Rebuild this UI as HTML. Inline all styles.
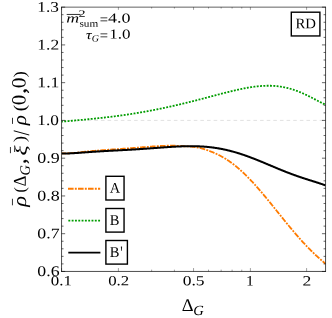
<!DOCTYPE html>
<html><head><meta charset="utf-8"><title>plot</title>
<style>html,body{margin:0;padding:0;background:#fff}body{width:332px;height:318px;overflow:hidden;font-family:"Liberation Serif",serif}</style></head>
<body>
<svg width="332" height="318" viewBox="0 0 332 318" font-family="Liberation Serif, serif" style="display:block;font-kerning:none;will-change:transform" text-rendering="geometricPrecision">
<rect width="332" height="318" fill="#fff"/>
<clipPath id="c"><rect x="61.55" y="7.15" width="264.0" height="264.3"/></clipPath>
<path d="M61.55,120.42 H325.55" stroke="#e0e0e0" stroke-width="0.95" stroke-dasharray="3.6 3.03" stroke-dashoffset="0.4" fill="none"/>
<g clip-path="url(#c)" fill="none">
<path d="M61.55,153.37 L61.99,153.37 L62.43,153.38 L62.87,153.38 L63.31,153.38 L63.75,153.38 L64.19,153.37 L64.64,153.37 L65.08,153.36 L65.52,153.35 L65.96,153.34 L66.40,153.33 L66.84,153.32 L67.28,153.30 L67.72,153.29 L68.16,153.27 L68.60,153.25 L69.04,153.23 L69.48,153.21 L69.92,153.19 L70.36,153.17 L70.81,153.14 L71.25,153.12 L71.69,153.09 L72.13,153.07 L72.57,153.04 L73.01,153.01 L73.45,152.98 L73.89,152.95 L74.33,152.92 L74.77,152.89 L75.21,152.86 L75.65,152.83 L76.09,152.79 L76.53,152.74 L76.98,152.69 L77.42,152.64 L77.86,152.59 L78.30,152.53 L78.74,152.48 L79.18,152.42 L79.62,152.36 L80.06,152.30 L80.50,152.23 L80.94,152.17 L81.38,152.11 L81.82,152.06 L82.26,152.00 L82.71,151.94 L83.15,151.89 L83.59,151.84 L84.03,151.79 L84.47,151.75 L84.91,151.70 L85.35,151.66 L85.79,151.62 L86.23,151.57 L86.67,151.53 L87.11,151.49 L87.55,151.45 L87.99,151.40 L88.43,151.36 L88.88,151.32 L89.32,151.28 L89.76,151.24 L90.20,151.20 L90.64,151.16 L91.08,151.13 L91.52,151.09 L91.96,151.05 L92.40,151.01 L92.84,150.97 L93.28,150.93 L93.72,150.90 L94.16,150.86 L94.61,150.82 L95.05,150.79 L95.49,150.75 L95.93,150.71 L96.37,150.68 L96.81,150.64 L97.25,150.60 L97.69,150.57 L98.13,150.53 L98.57,150.50 L99.01,150.46 L99.45,150.43 L99.89,150.39 L100.33,150.36 L100.78,150.32 L101.22,150.29 L101.66,150.26 L102.10,150.22 L102.54,150.19 L102.98,150.16 L103.42,150.12 L103.86,150.09 L104.30,150.06 L104.74,150.03 L105.18,149.99 L105.62,149.96 L106.06,149.93 L106.50,149.90 L106.95,149.87 L107.39,149.83 L107.83,149.80 L108.27,149.77 L108.71,149.74 L109.15,149.71 L109.59,149.68 L110.03,149.65 L110.47,149.61 L110.91,149.58 L111.35,149.55 L111.79,149.52 L112.23,149.49 L112.68,149.46 L113.12,149.43 L113.56,149.40 L114.00,149.37 L114.44,149.34 L114.88,149.31 L115.32,149.28 L115.76,149.25 L116.20,149.22 L116.64,149.19 L117.08,149.16 L117.52,149.12 L117.96,149.09 L118.40,149.06 L118.85,149.03 L119.29,149.00 L119.73,148.97 L120.17,148.94 L120.61,148.91 L121.05,148.88 L121.49,148.85 L121.93,148.82 L122.37,148.79 L122.81,148.76 L123.25,148.73 L123.69,148.69 L124.13,148.66 L124.58,148.63 L125.02,148.60 L125.46,148.57 L125.90,148.54 L126.34,148.51 L126.78,148.47 L127.22,148.44 L127.66,148.41 L128.10,148.38 L128.54,148.35 L128.98,148.31 L129.42,148.28 L129.86,148.25 L130.30,148.21 L130.75,148.18 L131.19,148.15 L131.63,148.12 L132.07,148.08 L132.51,148.05 L132.95,148.01 L133.39,147.98 L133.83,147.94 L134.27,147.91 L134.71,147.87 L135.15,147.83 L135.59,147.80 L136.03,147.76 L136.47,147.72 L136.92,147.68 L137.36,147.65 L137.80,147.61 L138.24,147.57 L138.68,147.53 L139.12,147.50 L139.56,147.46 L140.00,147.42 L140.44,147.39 L140.88,147.35 L141.32,147.32 L141.76,147.28 L142.20,147.25 L142.65,147.21 L143.09,147.18 L143.53,147.15 L143.97,147.12 L144.41,147.09 L144.85,147.06 L145.29,147.03 L145.73,147.00 L146.17,146.97 L146.61,146.93 L147.05,146.90 L147.49,146.87 L147.93,146.84 L148.37,146.81 L148.82,146.78 L149.26,146.75 L149.70,146.71 L150.14,146.68 L150.58,146.65 L151.02,146.62 L151.46,146.58 L151.90,146.55 L152.34,146.52 L152.78,146.49 L153.22,146.46 L153.66,146.42 L154.10,146.39 L154.54,146.36 L154.99,146.32 L155.43,146.29 L155.87,146.26 L156.31,146.23 L156.75,146.20 L157.19,146.17 L157.63,146.14 L158.07,146.11 L158.51,146.09 L158.95,146.06 L159.39,146.04 L159.83,146.02 L160.27,145.99 L160.72,145.97 L161.16,145.95 L161.60,145.94 L162.04,145.92 L162.48,145.90 L162.92,145.88 L163.36,145.87 L163.80,145.85 L164.24,145.83 L164.68,145.82 L165.12,145.80 L165.56,145.79 L166.00,145.77 L166.44,145.76 L166.89,145.75 L167.33,145.73 L167.77,145.72 L168.21,145.71 L168.65,145.71 L169.09,145.70 L169.53,145.69 L169.97,145.69 L170.41,145.69 L170.85,145.69 L171.29,145.69 L171.73,145.69 L172.17,145.69 L172.62,145.69 L173.06,145.70 L173.50,145.71 L173.94,145.71 L174.38,145.73 L174.82,145.75 L175.26,145.77 L175.70,145.80 L176.14,145.83 L176.58,145.86 L177.02,145.90 L177.46,145.93 L177.90,145.96 L178.34,145.99 L178.79,146.01 L179.23,146.03 L179.67,146.05 L180.11,146.08 L180.55,146.10 L180.99,146.12 L181.43,146.14 L181.87,146.16 L182.31,146.18 L182.75,146.20 L183.19,146.22 L183.63,146.24 L184.07,146.26 L184.51,146.28 L184.96,146.30 L185.40,146.32 L185.84,146.34 L186.28,146.36 L186.72,146.38 L187.16,146.39 L187.60,146.41 L188.04,146.43 L188.48,146.45 L188.92,146.47 L189.36,146.50 L189.80,146.52 L190.24,146.55 L190.69,146.58 L191.13,146.61 L191.57,146.65 L192.01,146.69 L192.45,146.73 L192.89,146.78 L193.33,146.84 L193.77,146.90 L194.21,146.96 L194.65,147.03 L195.09,147.10 L195.53,147.17 L195.97,147.24 L196.41,147.32 L196.86,147.40 L197.30,147.48 L197.74,147.56 L198.18,147.65 L198.62,147.73 L199.06,147.82 L199.50,147.91 L199.94,148.00 L200.38,148.10 L200.82,148.20 L201.26,148.31 L201.70,148.42 L202.14,148.53 L202.59,148.65 L203.03,148.78 L203.47,148.91 L203.91,149.04 L204.35,149.18 L204.79,149.32 L205.23,149.46 L205.67,149.61 L206.11,149.76 L206.55,149.92 L206.99,150.08 L207.43,150.24 L207.87,150.40 L208.31,150.56 L208.76,150.72 L209.20,150.89 L209.64,151.06 L210.08,151.23 L210.52,151.39 L210.96,151.56 L211.40,151.74 L211.84,151.91 L212.28,152.09 L212.72,152.27 L213.16,152.45 L213.60,152.63 L214.04,152.82 L214.48,153.01 L214.93,153.20 L215.37,153.40 L215.81,153.60 L216.25,153.80 L216.69,154.00 L217.13,154.21 L217.57,154.42 L218.01,154.64 L218.45,154.86 L218.89,155.08 L219.33,155.30 L219.77,155.53 L220.21,155.76 L220.66,155.99 L221.10,156.23 L221.54,156.47 L221.98,156.72 L222.42,156.96 L222.86,157.22 L223.30,157.47 L223.74,157.73 L224.18,157.99 L224.62,158.26 L225.06,158.53 L225.50,158.80 L225.94,159.07 L226.38,159.35 L226.83,159.64 L227.27,159.92 L227.71,160.21 L228.15,160.51 L228.59,160.81 L229.03,161.11 L229.47,161.41 L229.91,161.72 L230.35,162.03 L230.79,162.35 L231.23,162.67 L231.67,162.99 L232.11,163.32 L232.56,163.65 L233.00,163.98 L233.44,164.32 L233.88,164.66 L234.32,165.00 L234.76,165.35 L235.20,165.70 L235.64,166.06 L236.08,166.41 L236.52,166.78 L236.96,167.14 L237.40,167.51 L237.84,167.88 L238.28,168.26 L238.73,168.64 L239.17,169.02 L239.61,169.41 L240.05,169.80 L240.49,170.19 L240.93,170.59 L241.37,170.99 L241.81,171.39 L242.25,171.79 L242.69,172.20 L243.13,172.62 L243.57,173.03 L244.01,173.45 L244.45,173.87 L244.90,174.30 L245.34,174.73 L245.78,175.16 L246.22,175.59 L246.66,176.03 L247.10,176.47 L247.54,176.91 L247.98,177.36 L248.42,177.81 L248.86,178.26 L249.30,178.71 L249.74,179.17 L250.18,179.63 L250.63,180.09 L251.07,180.56 L251.51,181.03 L251.95,181.50 L252.39,181.97 L252.83,182.45 L253.27,182.93 L253.71,183.41 L254.15,183.89 L254.59,184.38 L255.03,184.86 L255.47,185.35 L255.91,185.85 L256.35,186.34 L256.80,186.84 L257.24,187.34 L257.68,187.84 L258.12,188.34 L258.56,188.85 L259.00,189.35 L259.44,189.86 L259.88,190.38 L260.32,190.89 L260.76,191.40 L261.20,191.92 L261.64,192.44 L262.08,192.96 L262.52,193.48 L262.97,194.00 L263.41,194.53 L263.85,195.05 L264.29,195.58 L264.73,196.11 L265.17,196.64 L265.61,197.17 L266.05,197.70 L266.49,198.24 L266.93,198.77 L267.37,199.31 L267.81,199.85 L268.25,200.39 L268.70,200.92 L269.14,201.47 L269.58,202.01 L270.02,202.55 L270.46,203.09 L270.90,203.64 L271.34,204.18 L271.78,204.72 L272.22,205.27 L272.66,205.82 L273.10,206.36 L273.54,206.91 L273.98,207.46 L274.42,208.01 L274.87,208.55 L275.31,209.10 L275.75,209.65 L276.19,210.20 L276.63,210.75 L277.07,211.30 L277.51,211.85 L277.95,212.40 L278.39,212.95 L278.83,213.49 L279.27,214.04 L279.71,214.59 L280.15,215.14 L280.60,215.69 L281.04,216.24 L281.48,216.78 L281.92,217.33 L282.36,217.88 L282.80,218.42 L283.24,218.97 L283.68,219.51 L284.12,220.06 L284.56,220.60 L285.00,221.14 L285.44,221.69 L285.88,222.23 L286.32,222.77 L286.77,223.31 L287.21,223.85 L287.65,224.38 L288.09,224.92 L288.53,225.46 L288.97,225.99 L289.41,226.52 L289.85,227.05 L290.29,227.59 L290.73,228.12 L291.17,228.64 L291.61,229.17 L292.05,229.70 L292.49,230.22 L292.94,230.74 L293.38,231.26 L293.82,231.78 L294.26,232.30 L294.70,232.82 L295.14,233.33 L295.58,233.85 L296.02,234.36 L296.46,234.87 L296.90,235.38 L297.34,235.88 L297.78,236.39 L298.22,236.89 L298.67,237.39 L299.11,237.89 L299.55,238.39 L299.99,238.88 L300.43,239.37 L300.87,239.86 L301.31,240.35 L301.75,240.84 L302.19,241.33 L302.63,241.81 L303.07,242.29 L303.51,242.77 L303.95,243.24 L304.39,243.72 L304.84,244.19 L305.28,244.66 L305.72,245.13 L306.16,245.59 L306.60,246.05 L307.04,246.51 L307.48,246.97 L307.92,247.43 L308.36,247.88 L308.80,248.33 L309.24,248.78 L309.68,249.23 L310.12,249.67 L310.57,250.11 L311.01,250.55 L311.45,250.99 L311.89,251.42 L312.33,251.85 L312.77,252.28 L313.21,252.71 L313.65,253.13 L314.09,253.55 L314.53,253.97 L314.97,254.39 L315.41,254.81 L315.85,255.22 L316.29,255.63 L316.74,256.03 L317.18,256.44 L317.62,256.84 L318.06,257.24 L318.50,257.64 L318.94,258.03 L319.38,258.43 L319.82,258.82 L320.26,259.20 L320.70,259.59 L321.14,259.97 L321.58,260.35 L322.02,260.73 L322.46,261.11 L322.91,261.48 L323.35,261.85 L323.79,262.22 L324.23,262.59 L324.67,262.95 L325.11,263.32 L325.55,263.68" stroke="#ff7b00" stroke-width="1.8" stroke-dasharray="5.6 1.25 1.9 1.234" stroke-dashoffset="1.088"/>
<path d="M61.55,121.55 L61.99,121.52 L62.43,121.49 L62.87,121.46 L63.31,121.43 L63.75,121.40 L64.19,121.37 L64.64,121.34 L65.08,121.30 L65.52,121.27 L65.96,121.24 L66.40,121.20 L66.84,121.17 L67.28,121.14 L67.72,121.10 L68.16,121.07 L68.60,121.03 L69.04,120.99 L69.48,120.96 L69.92,120.92 L70.36,120.89 L70.81,120.85 L71.25,120.81 L71.69,120.77 L72.13,120.74 L72.57,120.70 L73.01,120.66 L73.45,120.62 L73.89,120.58 L74.33,120.55 L74.77,120.51 L75.21,120.47 L75.65,120.43 L76.09,120.39 L76.53,120.35 L76.98,120.31 L77.42,120.27 L77.86,120.23 L78.30,120.19 L78.74,120.15 L79.18,120.11 L79.62,120.07 L80.06,120.03 L80.50,119.99 L80.94,119.95 L81.38,119.91 L81.82,119.86 L82.26,119.82 L82.71,119.78 L83.15,119.74 L83.59,119.70 L84.03,119.66 L84.47,119.61 L84.91,119.57 L85.35,119.53 L85.79,119.49 L86.23,119.44 L86.67,119.40 L87.11,119.36 L87.55,119.31 L87.99,119.27 L88.43,119.23 L88.88,119.18 L89.32,119.14 L89.76,119.10 L90.20,119.05 L90.64,119.01 L91.08,118.96 L91.52,118.92 L91.96,118.88 L92.40,118.83 L92.84,118.79 L93.28,118.74 L93.72,118.69 L94.16,118.65 L94.61,118.60 L95.05,118.56 L95.49,118.51 L95.93,118.47 L96.37,118.42 L96.81,118.37 L97.25,118.33 L97.69,118.28 L98.13,118.23 L98.57,118.18 L99.01,118.14 L99.45,118.09 L99.89,118.04 L100.33,117.99 L100.78,117.95 L101.22,117.90 L101.66,117.85 L102.10,117.80 L102.54,117.75 L102.98,117.70 L103.42,117.65 L103.86,117.60 L104.30,117.55 L104.74,117.50 L105.18,117.45 L105.62,117.40 L106.06,117.35 L106.50,117.30 L106.95,117.24 L107.39,117.19 L107.83,117.14 L108.27,117.09 L108.71,117.04 L109.15,116.98 L109.59,116.93 L110.03,116.88 L110.47,116.82 L110.91,116.77 L111.35,116.72 L111.79,116.66 L112.23,116.61 L112.68,116.55 L113.12,116.50 L113.56,116.44 L114.00,116.38 L114.44,116.33 L114.88,116.27 L115.32,116.22 L115.76,116.16 L116.20,116.10 L116.64,116.04 L117.08,115.99 L117.52,115.93 L117.96,115.87 L118.40,115.81 L118.85,115.75 L119.29,115.69 L119.73,115.63 L120.17,115.57 L120.61,115.51 L121.05,115.45 L121.49,115.39 L121.93,115.33 L122.37,115.27 L122.81,115.20 L123.25,115.14 L123.69,115.08 L124.13,115.02 L124.58,114.95 L125.02,114.89 L125.46,114.83 L125.90,114.76 L126.34,114.70 L126.78,114.63 L127.22,114.57 L127.66,114.50 L128.10,114.44 L128.54,114.37 L128.98,114.30 L129.42,114.24 L129.86,114.17 L130.30,114.10 L130.75,114.03 L131.19,113.97 L131.63,113.90 L132.07,113.83 L132.51,113.76 L132.95,113.69 L133.39,113.62 L133.83,113.55 L134.27,113.48 L134.71,113.41 L135.15,113.34 L135.59,113.26 L136.03,113.19 L136.47,113.12 L136.92,113.05 L137.36,112.97 L137.80,112.90 L138.24,112.83 L138.68,112.75 L139.12,112.68 L139.56,112.60 L140.00,112.53 L140.44,112.45 L140.88,112.38 L141.32,112.30 L141.76,112.23 L142.20,112.15 L142.65,112.07 L143.09,111.99 L143.53,111.92 L143.97,111.84 L144.41,111.76 L144.85,111.68 L145.29,111.60 L145.73,111.52 L146.17,111.44 L146.61,111.36 L147.05,111.28 L147.49,111.20 L147.93,111.12 L148.37,111.04 L148.82,110.96 L149.26,110.87 L149.70,110.79 L150.14,110.71 L150.58,110.63 L151.02,110.54 L151.46,110.46 L151.90,110.37 L152.34,110.29 L152.78,110.20 L153.22,110.12 L153.66,110.03 L154.10,109.95 L154.54,109.86 L154.99,109.77 L155.43,109.69 L155.87,109.60 L156.31,109.51 L156.75,109.43 L157.19,109.34 L157.63,109.25 L158.07,109.16 L158.51,109.07 L158.95,108.98 L159.39,108.89 L159.83,108.80 L160.27,108.71 L160.72,108.62 L161.16,108.53 L161.60,108.44 L162.04,108.34 L162.48,108.25 L162.92,108.16 L163.36,108.07 L163.80,107.97 L164.24,107.88 L164.68,107.79 L165.12,107.69 L165.56,107.60 L166.00,107.50 L166.44,107.41 L166.89,107.31 L167.33,107.22 L167.77,107.12 L168.21,107.03 L168.65,106.93 L169.09,106.83 L169.53,106.74 L169.97,106.64 L170.41,106.54 L170.85,106.44 L171.29,106.34 L171.73,106.25 L172.17,106.15 L172.62,106.05 L173.06,105.95 L173.50,105.85 L173.94,105.75 L174.38,105.65 L174.82,105.55 L175.26,105.45 L175.70,105.35 L176.14,105.24 L176.58,105.14 L177.02,105.04 L177.46,104.94 L177.90,104.83 L178.34,104.73 L178.79,104.63 L179.23,104.52 L179.67,104.42 L180.11,104.32 L180.55,104.21 L180.99,104.11 L181.43,104.00 L181.87,103.90 L182.31,103.79 L182.75,103.69 L183.19,103.58 L183.63,103.47 L184.07,103.37 L184.51,103.26 L184.96,103.15 L185.40,103.05 L185.84,102.94 L186.28,102.83 L186.72,102.72 L187.16,102.61 L187.60,102.50 L188.04,102.40 L188.48,102.29 L188.92,102.18 L189.36,102.07 L189.80,101.96 L190.24,101.85 L190.69,101.74 L191.13,101.63 L191.57,101.52 L192.01,101.41 L192.45,101.29 L192.89,101.18 L193.33,101.07 L193.77,100.96 L194.21,100.85 L194.65,100.74 L195.09,100.62 L195.53,100.51 L195.97,100.40 L196.41,100.28 L196.86,100.17 L197.30,100.06 L197.74,99.94 L198.18,99.83 L198.62,99.72 L199.06,99.60 L199.50,99.49 L199.94,99.37 L200.38,99.26 L200.82,99.15 L201.26,99.03 L201.70,98.92 L202.14,98.80 L202.59,98.69 L203.03,98.57 L203.47,98.45 L203.91,98.34 L204.35,98.22 L204.79,98.11 L205.23,97.99 L205.67,97.88 L206.11,97.76 L206.55,97.64 L206.99,97.53 L207.43,97.41 L207.87,97.29 L208.31,97.18 L208.76,97.06 L209.20,96.94 L209.64,96.83 L210.08,96.71 L210.52,96.59 L210.96,96.48 L211.40,96.36 L211.84,96.24 L212.28,96.13 L212.72,96.01 L213.16,95.89 L213.60,95.78 L214.04,95.66 L214.48,95.55 L214.93,95.43 L215.37,95.31 L215.81,95.20 L216.25,95.08 L216.69,94.96 L217.13,94.85 L217.57,94.73 L218.01,94.62 L218.45,94.50 L218.89,94.38 L219.33,94.27 L219.77,94.15 L220.21,94.04 L220.66,93.92 L221.10,93.81 L221.54,93.69 L221.98,93.58 L222.42,93.47 L222.86,93.35 L223.30,93.24 L223.74,93.12 L224.18,93.01 L224.62,92.90 L225.06,92.79 L225.50,92.67 L225.94,92.56 L226.38,92.45 L226.83,92.34 L227.27,92.23 L227.71,92.12 L228.15,92.01 L228.59,91.90 L229.03,91.79 L229.47,91.68 L229.91,91.57 L230.35,91.46 L230.79,91.35 L231.23,91.25 L231.67,91.14 L232.11,91.03 L232.56,90.93 L233.00,90.82 L233.44,90.72 L233.88,90.61 L234.32,90.51 L234.76,90.41 L235.20,90.30 L235.64,90.20 L236.08,90.10 L236.52,90.00 L236.96,89.90 L237.40,89.80 L237.84,89.70 L238.28,89.61 L238.73,89.51 L239.17,89.41 L239.61,89.32 L240.05,89.22 L240.49,89.13 L240.93,89.04 L241.37,88.94 L241.81,88.85 L242.25,88.76 L242.69,88.67 L243.13,88.58 L243.57,88.50 L244.01,88.41 L244.45,88.32 L244.90,88.24 L245.34,88.16 L245.78,88.07 L246.22,87.99 L246.66,87.91 L247.10,87.83 L247.54,87.75 L247.98,87.68 L248.42,87.60 L248.86,87.53 L249.30,87.45 L249.74,87.38 L250.18,87.31 L250.63,87.24 L251.07,87.17 L251.51,87.10 L251.95,87.04 L252.39,86.97 L252.83,86.91 L253.27,86.85 L253.71,86.79 L254.15,86.73 L254.59,86.67 L255.03,86.62 L255.47,86.56 L255.91,86.51 L256.35,86.46 L256.80,86.41 L257.24,86.36 L257.68,86.31 L258.12,86.27 L258.56,86.22 L259.00,86.18 L259.44,86.14 L259.88,86.11 L260.32,86.07 L260.76,86.03 L261.20,86.00 L261.64,85.97 L262.08,85.94 L262.52,85.91 L262.97,85.89 L263.41,85.86 L263.85,85.84 L264.29,85.82 L264.73,85.80 L265.17,85.79 L265.61,85.77 L266.05,85.76 L266.49,85.75 L266.93,85.75 L267.37,85.74 L267.81,85.74 L268.25,85.73 L268.70,85.74 L269.14,85.74 L269.58,85.74 L270.02,85.75 L270.46,85.76 L270.90,85.77 L271.34,85.79 L271.78,85.80 L272.22,85.82 L272.66,85.84 L273.10,85.87 L273.54,85.89 L273.98,85.92 L274.42,85.95 L274.87,85.98 L275.31,86.02 L275.75,86.06 L276.19,86.10 L276.63,86.14 L277.07,86.18 L277.51,86.23 L277.95,86.28 L278.39,86.33 L278.83,86.39 L279.27,86.45 L279.71,86.51 L280.15,86.57 L280.60,86.64 L281.04,86.71 L281.48,86.78 L281.92,86.85 L282.36,86.93 L282.80,87.00 L283.24,87.09 L283.68,87.17 L284.12,87.26 L284.56,87.35 L285.00,87.44 L285.44,87.53 L285.88,87.63 L286.32,87.73 L286.77,87.83 L287.21,87.94 L287.65,88.05 L288.09,88.16 L288.53,88.27 L288.97,88.39 L289.41,88.51 L289.85,88.63 L290.29,88.75 L290.73,88.88 L291.17,89.01 L291.61,89.14 L292.05,89.28 L292.49,89.42 L292.94,89.56 L293.38,89.70 L293.82,89.85 L294.26,89.99 L294.70,90.15 L295.14,90.30 L295.58,90.46 L296.02,90.61 L296.46,90.78 L296.90,90.94 L297.34,91.11 L297.78,91.27 L298.22,91.45 L298.67,91.62 L299.11,91.80 L299.55,91.97 L299.99,92.15 L300.43,92.34 L300.87,92.52 L301.31,92.71 L301.75,92.90 L302.19,93.09 L302.63,93.29 L303.07,93.48 L303.51,93.68 L303.95,93.88 L304.39,94.08 L304.84,94.29 L305.28,94.49 L305.72,94.70 L306.16,94.91 L306.60,95.12 L307.04,95.33 L307.48,95.55 L307.92,95.77 L308.36,95.98 L308.80,96.20 L309.24,96.42 L309.68,96.64 L310.12,96.87 L310.57,97.09 L311.01,97.31 L311.45,97.54 L311.89,97.77 L312.33,97.99 L312.77,98.22 L313.21,98.45 L313.65,98.68 L314.09,98.91 L314.53,99.14 L314.97,99.37 L315.41,99.60 L315.85,99.83 L316.29,100.06 L316.74,100.29 L317.18,100.52 L317.62,100.75 L318.06,100.98 L318.50,101.21 L318.94,101.44 L319.38,101.67 L319.82,101.89 L320.26,102.12 L320.70,102.34 L321.14,102.57 L321.58,102.79 L322.02,103.01 L322.46,103.22 L322.91,103.44 L323.35,103.65 L323.79,103.86 L324.23,104.07 L324.67,104.28 L325.11,104.48 L325.55,104.68" stroke="#009c00" stroke-width="1.8" stroke-dasharray="1.9 1.422" stroke-dashoffset="0.608"/>
<path d="M61.55,153.52 L61.99,153.52 L62.43,153.53 L62.87,153.53 L63.31,153.53 L63.75,153.53 L64.19,153.53 L64.64,153.52 L65.08,153.52 L65.52,153.51 L65.96,153.50 L66.40,153.49 L66.84,153.48 L67.28,153.46 L67.72,153.45 L68.16,153.43 L68.60,153.42 L69.04,153.40 L69.48,153.38 L69.92,153.36 L70.36,153.34 L70.81,153.32 L71.25,153.30 L71.69,153.27 L72.13,153.25 L72.57,153.22 L73.01,153.20 L73.45,153.17 L73.89,153.15 L74.33,153.12 L74.77,153.09 L75.21,153.06 L75.65,153.04 L76.09,153.01 L76.53,152.98 L76.98,152.95 L77.42,152.92 L77.86,152.89 L78.30,152.86 L78.74,152.83 L79.18,152.79 L79.62,152.76 L80.06,152.73 L80.50,152.70 L80.94,152.67 L81.38,152.64 L81.82,152.60 L82.26,152.57 L82.71,152.54 L83.15,152.51 L83.59,152.48 L84.03,152.44 L84.47,152.41 L84.91,152.38 L85.35,152.35 L85.79,152.32 L86.23,152.28 L86.67,152.25 L87.11,152.22 L87.55,152.19 L87.99,152.16 L88.43,152.12 L88.88,152.09 L89.32,152.06 L89.76,152.03 L90.20,152.00 L90.64,151.97 L91.08,151.94 L91.52,151.91 L91.96,151.88 L92.40,151.85 L92.84,151.82 L93.28,151.79 L93.72,151.76 L94.16,151.73 L94.61,151.70 L95.05,151.67 L95.49,151.64 L95.93,151.61 L96.37,151.58 L96.81,151.55 L97.25,151.53 L97.69,151.50 L98.13,151.47 L98.57,151.44 L99.01,151.41 L99.45,151.39 L99.89,151.36 L100.33,151.33 L100.78,151.31 L101.22,151.28 L101.66,151.25 L102.10,151.23 L102.54,151.20 L102.98,151.17 L103.42,151.15 L103.86,151.12 L104.30,151.10 L104.74,151.07 L105.18,151.05 L105.62,151.02 L106.06,151.00 L106.50,150.97 L106.95,150.95 L107.39,150.92 L107.83,150.90 L108.27,150.88 L108.71,150.85 L109.15,150.83 L109.59,150.80 L110.03,150.78 L110.47,150.76 L110.91,150.73 L111.35,150.71 L111.79,150.69 L112.23,150.66 L112.68,150.64 L113.12,150.62 L113.56,150.59 L114.00,150.57 L114.44,150.55 L114.88,150.52 L115.32,150.50 L115.76,150.48 L116.20,150.45 L116.64,150.43 L117.08,150.41 L117.52,150.38 L117.96,150.36 L118.40,150.34 L118.85,150.31 L119.29,150.29 L119.73,150.27 L120.17,150.24 L120.61,150.22 L121.05,150.20 L121.49,150.17 L121.93,150.15 L122.37,150.13 L122.81,150.10 L123.25,150.08 L123.69,150.06 L124.13,150.03 L124.58,150.01 L125.02,149.98 L125.46,149.96 L125.90,149.94 L126.34,149.91 L126.78,149.89 L127.22,149.86 L127.66,149.84 L128.10,149.81 L128.54,149.79 L128.98,149.76 L129.42,149.74 L129.86,149.71 L130.30,149.69 L130.75,149.66 L131.19,149.64 L131.63,149.61 L132.07,149.58 L132.51,149.56 L132.95,149.53 L133.39,149.50 L133.83,149.48 L134.27,149.45 L134.71,149.42 L135.15,149.40 L135.59,149.37 L136.03,149.34 L136.47,149.31 L136.92,149.29 L137.36,149.26 L137.80,149.23 L138.24,149.20 L138.68,149.17 L139.12,149.14 L139.56,149.12 L140.00,149.09 L140.44,149.06 L140.88,149.03 L141.32,149.00 L141.76,148.97 L142.20,148.94 L142.65,148.91 L143.09,148.88 L143.53,148.85 L143.97,148.82 L144.41,148.79 L144.85,148.76 L145.29,148.73 L145.73,148.70 L146.17,148.67 L146.61,148.63 L147.05,148.60 L147.49,148.57 L147.93,148.54 L148.37,148.51 L148.82,148.48 L149.26,148.45 L149.70,148.41 L150.14,148.38 L150.58,148.35 L151.02,148.32 L151.46,148.28 L151.90,148.25 L152.34,148.22 L152.78,148.19 L153.22,148.16 L153.66,148.12 L154.10,148.09 L154.54,148.06 L154.99,148.02 L155.43,147.99 L155.87,147.96 L156.31,147.93 L156.75,147.89 L157.19,147.86 L157.63,147.83 L158.07,147.80 L158.51,147.76 L158.95,147.73 L159.39,147.70 L159.83,147.67 L160.27,147.63 L160.72,147.60 L161.16,147.57 L161.60,147.54 L162.04,147.51 L162.48,147.47 L162.92,147.44 L163.36,147.41 L163.80,147.38 L164.24,147.35 L164.68,147.32 L165.12,147.29 L165.56,147.25 L166.00,147.22 L166.44,147.19 L166.89,147.16 L167.33,147.13 L167.77,147.10 L168.21,147.07 L168.65,147.04 L169.09,147.02 L169.53,146.99 L169.97,146.96 L170.41,146.93 L170.85,146.90 L171.29,146.88 L171.73,146.85 L172.17,146.82 L172.62,146.80 L173.06,146.77 L173.50,146.74 L173.94,146.72 L174.38,146.69 L174.82,146.67 L175.26,146.65 L175.70,146.62 L176.14,146.60 L176.58,146.58 L177.02,146.56 L177.46,146.53 L177.90,146.51 L178.34,146.49 L178.79,146.47 L179.23,146.45 L179.67,146.43 L180.11,146.42 L180.55,146.40 L180.99,146.38 L181.43,146.36 L181.87,146.35 L182.31,146.33 L182.75,146.32 L183.19,146.31 L183.63,146.29 L184.07,146.28 L184.51,146.27 L184.96,146.26 L185.40,146.25 L185.84,146.24 L186.28,146.23 L186.72,146.22 L187.16,146.21 L187.60,146.21 L188.04,146.20 L188.48,146.20 L188.92,146.19 L189.36,146.19 L189.80,146.19 L190.24,146.18 L190.69,146.18 L191.13,146.18 L191.57,146.19 L192.01,146.19 L192.45,146.19 L192.89,146.19 L193.33,146.20 L193.77,146.21 L194.21,146.21 L194.65,146.22 L195.09,146.23 L195.53,146.24 L195.97,146.25 L196.41,146.26 L196.86,146.28 L197.30,146.29 L197.74,146.30 L198.18,146.32 L198.62,146.34 L199.06,146.36 L199.50,146.38 L199.94,146.40 L200.38,146.42 L200.82,146.44 L201.26,146.46 L201.70,146.49 L202.14,146.52 L202.59,146.54 L203.03,146.57 L203.47,146.60 L203.91,146.63 L204.35,146.67 L204.79,146.70 L205.23,146.73 L205.67,146.77 L206.11,146.81 L206.55,146.85 L206.99,146.89 L207.43,146.93 L207.87,146.97 L208.31,147.01 L208.76,147.06 L209.20,147.10 L209.64,147.15 L210.08,147.20 L210.52,147.25 L210.96,147.30 L211.40,147.35 L211.84,147.41 L212.28,147.46 L212.72,147.52 L213.16,147.58 L213.60,147.64 L214.04,147.70 L214.48,147.76 L214.93,147.82 L215.37,147.89 L215.81,147.96 L216.25,148.02 L216.69,148.09 L217.13,148.16 L217.57,148.24 L218.01,148.31 L218.45,148.38 L218.89,148.46 L219.33,148.54 L219.77,148.62 L220.21,148.70 L220.66,148.78 L221.10,148.86 L221.54,148.95 L221.98,149.03 L222.42,149.12 L222.86,149.21 L223.30,149.30 L223.74,149.39 L224.18,149.48 L224.62,149.58 L225.06,149.67 L225.50,149.77 L225.94,149.87 L226.38,149.97 L226.83,150.07 L227.27,150.17 L227.71,150.28 L228.15,150.38 L228.59,150.49 L229.03,150.60 L229.47,150.71 L229.91,150.82 L230.35,150.93 L230.79,151.04 L231.23,151.16 L231.67,151.27 L232.11,151.39 L232.56,151.51 L233.00,151.63 L233.44,151.75 L233.88,151.88 L234.32,152.00 L234.76,152.13 L235.20,152.25 L235.64,152.38 L236.08,152.51 L236.52,152.64 L236.96,152.77 L237.40,152.91 L237.84,153.04 L238.28,153.18 L238.73,153.32 L239.17,153.45 L239.61,153.59 L240.05,153.73 L240.49,153.88 L240.93,154.02 L241.37,154.16 L241.81,154.31 L242.25,154.45 L242.69,154.60 L243.13,154.75 L243.57,154.90 L244.01,155.05 L244.45,155.20 L244.90,155.36 L245.34,155.51 L245.78,155.67 L246.22,155.82 L246.66,155.98 L247.10,156.14 L247.54,156.30 L247.98,156.46 L248.42,156.62 L248.86,156.78 L249.30,156.94 L249.74,157.11 L250.18,157.27 L250.63,157.44 L251.07,157.60 L251.51,157.77 L251.95,157.94 L252.39,158.11 L252.83,158.28 L253.27,158.45 L253.71,158.62 L254.15,158.79 L254.59,158.96 L255.03,159.14 L255.47,159.31 L255.91,159.49 L256.35,159.66 L256.80,159.84 L257.24,160.01 L257.68,160.19 L258.12,160.37 L258.56,160.55 L259.00,160.73 L259.44,160.91 L259.88,161.09 L260.32,161.27 L260.76,161.45 L261.20,161.63 L261.64,161.81 L262.08,161.99 L262.52,162.17 L262.97,162.36 L263.41,162.54 L263.85,162.72 L264.29,162.91 L264.73,163.09 L265.17,163.28 L265.61,163.46 L266.05,163.64 L266.49,163.83 L266.93,164.01 L267.37,164.20 L267.81,164.38 L268.25,164.57 L268.70,164.76 L269.14,164.94 L269.58,165.13 L270.02,165.31 L270.46,165.50 L270.90,165.68 L271.34,165.87 L271.78,166.05 L272.22,166.24 L272.66,166.43 L273.10,166.61 L273.54,166.80 L273.98,166.98 L274.42,167.16 L274.87,167.35 L275.31,167.53 L275.75,167.72 L276.19,167.90 L276.63,168.08 L277.07,168.27 L277.51,168.45 L277.95,168.63 L278.39,168.82 L278.83,169.00 L279.27,169.18 L279.71,169.36 L280.15,169.54 L280.60,169.72 L281.04,169.90 L281.48,170.08 L281.92,170.26 L282.36,170.44 L282.80,170.61 L283.24,170.79 L283.68,170.97 L284.12,171.14 L284.56,171.32 L285.00,171.50 L285.44,171.67 L285.88,171.84 L286.32,172.02 L286.77,172.19 L287.21,172.36 L287.65,172.53 L288.09,172.70 L288.53,172.87 L288.97,173.04 L289.41,173.21 L289.85,173.38 L290.29,173.54 L290.73,173.71 L291.17,173.88 L291.61,174.04 L292.05,174.21 L292.49,174.37 L292.94,174.53 L293.38,174.69 L293.82,174.85 L294.26,175.01 L294.70,175.17 L295.14,175.33 L295.58,175.49 L296.02,175.65 L296.46,175.80 L296.90,175.96 L297.34,176.11 L297.78,176.27 L298.22,176.42 L298.67,176.58 L299.11,176.73 L299.55,176.88 L299.99,177.03 L300.43,177.18 L300.87,177.33 L301.31,177.48 L301.75,177.62 L302.19,177.77 L302.63,177.92 L303.07,178.06 L303.51,178.21 L303.95,178.35 L304.39,178.50 L304.84,178.64 L305.28,178.78 L305.72,178.93 L306.16,179.07 L306.60,179.21 L307.04,179.35 L307.48,179.49 L307.92,179.63 L308.36,179.77 L308.80,179.91 L309.24,180.05 L309.68,180.19 L310.12,180.33 L310.57,180.46 L311.01,180.60 L311.45,180.74 L311.89,180.88 L312.33,181.02 L312.77,181.15 L313.21,181.29 L313.65,181.43 L314.09,181.57 L314.53,181.71 L314.97,181.85 L315.41,181.99 L315.85,182.12 L316.29,182.26 L316.74,182.40 L317.18,182.55 L317.62,182.69 L318.06,182.83 L318.50,182.97 L318.94,183.11 L319.38,183.26 L319.82,183.40 L320.26,183.55 L320.70,183.70 L321.14,183.85 L321.58,183.99 L322.02,184.15 L322.46,184.30 L322.91,184.45 L323.35,184.61 L323.79,184.76 L324.23,184.92 L324.67,185.08 L325.11,185.25 L325.55,185.41" stroke="#000" stroke-width="2.05"/>
</g>
<path d="M61.55,271.45h3.6M325.55,271.45h-3.6M61.55,263.90h2M325.55,263.90h-2M61.55,256.35h2M325.55,256.35h-2M61.55,248.80h2M325.55,248.80h-2M61.55,241.24h2M325.55,241.24h-2M61.55,233.69h3.6M325.55,233.69h-3.6M61.55,226.14h2M325.55,226.14h-2M61.55,218.59h2M325.55,218.59h-2M61.55,211.04h2M325.55,211.04h-2M61.55,203.49h2M325.55,203.49h-2M61.55,195.94h3.6M325.55,195.94h-3.6M61.55,188.38h2M325.55,188.38h-2M61.55,180.83h2M325.55,180.83h-2M61.55,173.28h2M325.55,173.28h-2M61.55,165.73h2M325.55,165.73h-2M61.55,158.18h3.6M325.55,158.18h-3.6M61.55,150.63h2M325.55,150.63h-2M61.55,143.08h2M325.55,143.08h-2M61.55,135.52h2M325.55,135.52h-2M61.55,127.97h2M325.55,127.97h-2M61.55,120.42h3.6M325.55,120.42h-3.6M61.55,112.87h2M325.55,112.87h-2M61.55,105.32h2M325.55,105.32h-2M61.55,97.77h2M325.55,97.77h-2M61.55,90.22h2M325.55,90.22h-2M61.55,82.66h3.6M325.55,82.66h-3.6M61.55,75.11h2M325.55,75.11h-2M61.55,67.56h2M325.55,67.56h-2M61.55,60.01h2M325.55,60.01h-2M61.55,52.46h2M325.55,52.46h-2M61.55,44.91h3.6M325.55,44.91h-3.6M61.55,37.36h2M325.55,37.36h-2M61.55,29.80h2M325.55,29.80h-2M61.55,22.25h2M325.55,22.25h-2M61.55,14.70h2M325.55,14.70h-2M61.55,7.15h3.6M325.55,7.15h-3.6" stroke="#000" stroke-width="0.6" fill="none"/>
<path d="M61.55,271.45v-3.4M61.55,7.15v2.7M118.40,271.45v-3.4M118.40,7.15v2.7M151.65,271.45v-1.8M151.65,7.15v1.4M174.40,271.45v-1.8M174.40,7.15v1.4M193.55,271.45v-3.4M193.55,7.15v2.7M208.50,271.45v-1.8M208.50,7.15v1.4M221.15,271.45v-1.8M221.15,7.15v1.4M232.10,271.45v-1.8M232.10,7.15v1.4M241.76,271.45v-1.8M241.76,7.15v1.4M250.40,271.45v-3.4M250.40,7.15v2.7M306.60,271.45v-3.4M306.60,7.15v2.7" stroke="#000" stroke-width="0.38" fill="none"/>
<path d="M61.55,6.8500000000000005V271.8M325.55,6.8500000000000005V271.8M61.199999999999996,271.45H325.90000000000003" stroke="#000" stroke-width="0.7" fill="none"/>
<path d="M61.199999999999996,7.15H325.90000000000003" stroke="#000" stroke-width="0.62" fill="none"/>
<text transform="translate(37.36,11.71) rotate(0.03) scale(1.169,1)" font-size="14.77" fill="#000">1.3</text>
<text transform="translate(37.34,49.47) rotate(0.03) scale(1.186,1)" font-size="14.77" fill="#000">1.2</text>
<text transform="translate(37.33,87.22) rotate(0.03) scale(1.188,1)" font-size="14.82" fill="#000">1.1</text>
<text transform="translate(37.36,124.98) rotate(0.03) scale(1.173,1)" font-size="14.71" fill="#000">1.0</text>
<text transform="translate(37.30,162.74) rotate(0.03) scale(1.222,1)" font-size="14.71" fill="#000">0.9</text>
<text transform="translate(37.30,200.50) rotate(0.03) scale(1.219,1)" font-size="14.71" fill="#000">0.8</text>
<text transform="translate(37.30,238.25) rotate(0.03) scale(1.209,1)" font-size="14.71" fill="#000">0.7</text>
<text transform="translate(37.30,276.01) rotate(0.03) scale(1.210,1)" font-size="14.71" fill="#000">0.6</text>
<text transform="translate(50.84,285.32) rotate(0.03) scale(1.214,1)" font-size="13.90" fill="#000">0.1</text>
<text transform="translate(108.14,285.32) rotate(0.03) scale(1.209,1)" font-size="13.90" fill="#000">0.2</text>
<text transform="translate(182.66,285.32) rotate(0.03) scale(1.257,1)" font-size="13.90" fill="#000">0.5</text>
<text transform="translate(245.90,285.52) rotate(0.03) scale(1.100,1)" font-size="14.30" fill="#000">1</text>
<text transform="translate(302.41,285.52) rotate(0.03) scale(1.232,1)" font-size="14.26" fill="#000">2</text>
<text transform="translate(66.23,22.62) rotate(0.03) scale(1.375,1)" font-size="13.03" font-style="italic" fill="#000">m</text>
<path d="M66.7,14.45H80.6" stroke="#000" stroke-width="0.8"/>
<text transform="translate(78.56,16.72) rotate(0.03) scale(1.469,1)" font-size="9.58" fill="#000">2</text>
<text transform="translate(79.42,26.72) rotate(0.03) scale(1.119,1)" font-size="10.06" fill="#000">sum</text>
<text transform="translate(99.65,24.50) rotate(0.03) scale(0.957,1)" font-size="15.36" fill="#000">=</text>
<text transform="translate(107.98,22.53) rotate(0.03) scale(1.325,1)" font-size="13.60" fill="#000">4.0</text>
<text transform="translate(85.94,38.89) rotate(0.03) scale(1.216,1)" font-size="12.89" font-style="italic" fill="#000">τ</text>
<text transform="translate(91.63,41.54) rotate(0.03) scale(1.039,1)" font-size="9.60" font-style="italic" fill="#000">G</text>
<text transform="translate(99.85,40.50) rotate(0.03) scale(0.957,1)" font-size="15.36" fill="#000">=</text>
<text transform="translate(109.18,38.53) rotate(0.03) scale(1.252,1)" font-size="13.60" fill="#000">1.0</text>
<rect x="291.3" y="12.2" width="28.6" height="23.75" fill="#fff" stroke="#000" stroke-width="1.4"/>
<text transform="translate(295.45,28.19) rotate(0.03) scale(1.013,1)" font-size="14.60" fill="#000">RD</text>
<path d="M68.0,188.75H100.2" stroke="#ff7b00" stroke-width="1.8" stroke-dasharray="5.6 1.25 1.9 1.25" fill="none"/>
<path d="M68.35,220.65H100.3" stroke="#009c00" stroke-width="1.8" stroke-dasharray="1.9 1.41" fill="none"/>
<path d="M68.3,252.65H100.4" stroke="#000" stroke-width="1.9" fill="none"/>
<rect x="105.90" y="176.30" width="18.15" height="23.70" fill="#fff" stroke="#000" stroke-width="1.4"/>
<rect x="105.90" y="208.50" width="18.15" height="23.60" fill="#fff" stroke="#000" stroke-width="1.4"/>
<rect x="105.90" y="240.50" width="21.50" height="23.60" fill="#fff" stroke="#000" stroke-width="1.4"/>
<text transform="translate(109.64,192.77) rotate(0.03) scale(0.965,1)" font-size="14.98" fill="#000">A</text>
<text transform="translate(109.66,224.98) rotate(0.03) scale(0.969,1)" font-size="14.96" fill="#000">B</text>
<text transform="translate(109.66,256.98) rotate(0.03) scale(0.969,1)" font-size="14.96" fill="#000">B</text>
<text transform="translate(120.53,257.33) rotate(0.03) scale(0.698,1)" font-size="15.50" fill="#000" stroke="#000" stroke-width="0.3">'</text>
<text transform="translate(181.68,311.12) rotate(0.03) scale(1.026,1)" font-size="17.94" fill="#000">Δ</text>
<text transform="translate(193.37,314.90) rotate(0.03) scale(1.039,1)" font-size="14.07" font-style="italic" fill="#000">G</text>
<g transform="translate(0,207.5) rotate(-90)">
<text transform="translate(0.65,25.95) rotate(0.03) scale(1.172,1)" font-size="19.12" font-style="italic" fill="#000">ρ</text>
<text transform="translate(14.99,25.34) rotate(0.03) scale(0.961,1)" font-size="16.37" fill="#000">(</text>
<text transform="translate(21.04,25.82) rotate(0.03) scale(0.937,1)" font-size="17.94" fill="#000">Δ</text>
<text transform="translate(31.99,29.69) rotate(0.03) scale(0.996,1)" font-size="14.37" font-style="italic" fill="#000">G</text>
<text transform="translate(43.73,25.68) rotate(0.03) scale(0.968,1)" font-size="20.40" fill="#000" stroke="#000" stroke-width="0.45">,</text>
<text transform="translate(52.08,26.85) rotate(0.03) scale(1.305,1)" font-size="17.99" font-style="italic" fill="#000">ξ</text>
<text transform="translate(65.60,25.18) rotate(0.03) scale(1.058,1)" font-size="17.08" fill="#000">)</text>
<text transform="translate(72.08,28.59) rotate(0.03) scale(0.814,1)" font-size="23.16" fill="#000">/</text>
<text transform="translate(82.22,25.95) rotate(0.03) scale(1.105,1)" font-size="19.12" font-style="italic" fill="#000">ρ</text>
<text transform="translate(96.23,25.18) rotate(0.03) scale(1.126,1)" font-size="17.08" fill="#000">(</text>
<text transform="translate(102.28,25.62) rotate(0.03) scale(1.036,1)" font-size="20.36" fill="#000">0</text>
<text transform="translate(114.08,25.68) rotate(0.03) scale(1.033,1)" font-size="20.40" fill="#000" stroke="#000" stroke-width="0.45">,</text>
<text transform="translate(119.26,25.62) rotate(0.03) scale(1.059,1)" font-size="20.36" fill="#000">0</text>
<text transform="translate(130.34,25.18) rotate(0.03) scale(1.069,1)" font-size="17.08" fill="#000">)</text>
<path d="M2.2,12.45H8.75M54.3,10.45H60.5M83.6,12.5H89.7" stroke="#000" stroke-width="0.8" fill="none"/>
</g>
</svg>
</body></html>
